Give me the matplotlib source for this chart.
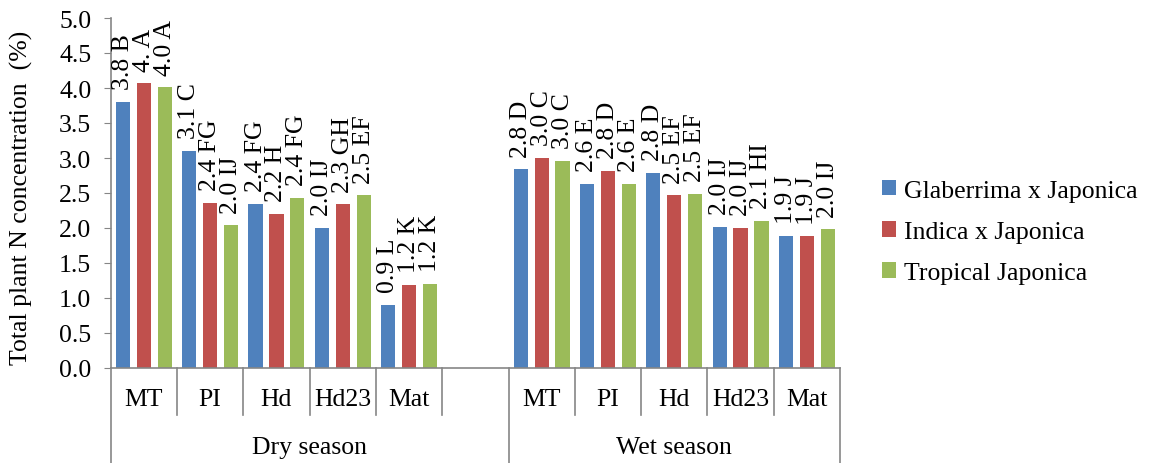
"""plot.py

    Total plant N concentration by growth stage, season and cross type.

    """
import matplotlib
matplotlib.use("Agg")
import matplotlib.pyplot as plt
import matplotlib.transforms as mtransforms
from matplotlib.patches import Patch
import numpy as np

plt.rcParams['font.family'] = ['Liberation Serif', 'DejaVu Serif']

# Categories (dry season has an empty slot after Mat)
stages = ['MT', 'PI', 'Hd', 'Hd23', 'Mat', '', 'MT', 'PI', 'Hd', 'Hd23', 'Mat']
seasons = ['Dry season', 'Wet season']
series = ['Glaberrima x Japonica', 'Indica x Japonica', 'Tropical Japonica']

# values per slot (None = empty slot)
glab = [3.80, 3.10, 2.35, 2.00, 0.90, None, 2.84, 2.63, 2.79, 2.02, 1.89]
indica = [4.07, 2.36, 2.20, 2.34, 1.19, None, 3.00, 2.82, 2.47, 2.00, 1.88]
tropical = [4.01, 2.04, 2.43, 2.47, 1.20, None, 2.96, 2.63, 2.49, 2.10, 1.98]

glab_lbl = ['3.8 B', '3.1 C', '2.4 FG', '2.0 IJ', '0.9 L', None,
            '2.8 D', '2.6 E', '2.8 D', '2.0 IJ', '1.9 J']
indica_lbl = ['4. A', '2.4 FG', '2.2 H', '2.3 GH', '1.2 K', None,
              '3.0 C', '2.8 D', '2.5 EF', '2.0 IJ', '1.9 J']
tropical_lbl = ['4.0 A', '2.0 IJ', '2.4 FG', '2.5 EF', '1.2 K', None,
                '3.0 C', '2.6 E', '2.5 EF', '2.1 HI', '2.0 IJ']

colors = ['#4F81BD', '#C0504D', '#9BBB59']
axis_gray = '#868686'
fs = 18.5

W, H = 1150, 464
fig = plt.figure(figsize=(W / 100, H / 100), dpi=100)
ax = fig.add_axes([110.7 / W, 1 - 369 / H, (840 - 110.7) / W, (369 - 19) / H])

x = np.arange(len(stages))
offsets = [-0.315, 0.0, 0.315]
width = 0.215

for vals, lbls, off, col in zip([glab, indica, tropical],
                                [glab_lbl, indica_lbl, tropical_lbl],
                                offsets, colors):
    xs = [xi + off for xi, v in zip(x, vals) if v is not None]
    hs = [v for v in vals if v is not None]
    ax.bar(xs, hs, width=width, color=col, edgecolor='none')
    for xi, v, t in zip(xs, hs, [l for l in lbls if l is not None]):
        ax.annotate(t, (xi, v), xytext=(0, 9), textcoords='offset points',
                    rotation=90, ha='center', va='bottom', fontsize=fs)

ax.set_xlim(-0.5, len(stages) - 0.5)
ax.set_ylim(0, 5)
ax.set_yticks(np.arange(0, 5.01, 0.5))
ax.set_yticklabels(['%.1f' % v for v in np.arange(0, 5.01, 0.5)], fontsize=fs)
ax.tick_params(axis='y', direction='out', length=5, color=axis_gray, pad=9)
ax.set_xticks([])
for s in ['top', 'right']:
    ax.spines[s].set_visible(False)
for s in ['left', 'bottom']:
    ax.spines[s].set_color(axis_gray)
    ax.spines[s].set_linewidth(1.2)

fig.text(21 / W, 1 - 198 / H, 'Total plant N concentration  (%)',
         rotation=90, ha='center', va='center', fontsize=fs)

# multi-level category axis
trans = mtransforms.blended_transform_factory(ax.transData, ax.transAxes)
ax_h = 369 - 19
for i in range(len(stages) + 1):
    b = i - 0.5
    long_line = i in (0, 6, len(stages))
    depth = (464 - 369) if long_line else (416 - 369)
    ax.plot([b, b], [0, -depth / ax_h], transform=trans, color=axis_gray,
            lw=1.2, clip_on=False)
for xi, s in zip(x, stages):
    ax.text(xi, -31 / ax_h, s, transform=trans, ha='center', va='center',
            fontsize=fs)
ax.text(2.5, -79 / ax_h, seasons[0], transform=trans, ha='center',
        va='center', fontsize=fs)
ax.text(8.0, -79 / ax_h, seasons[1], transform=trans, ha='center',
        va='center', fontsize=fs)

handles = [Patch(facecolor=c, edgecolor='none') for c in colors]
fig.legend(handles, series, loc='center left',
           bbox_to_anchor=(872 / W, 1 - 233 / H), frameon=False,
           fontsize=fs, handlelength=0.55, handleheight=0.55,
           handletextpad=0.3, labelspacing=0.75, borderaxespad=0)

fig.savefig('out.png', dpi=100)
